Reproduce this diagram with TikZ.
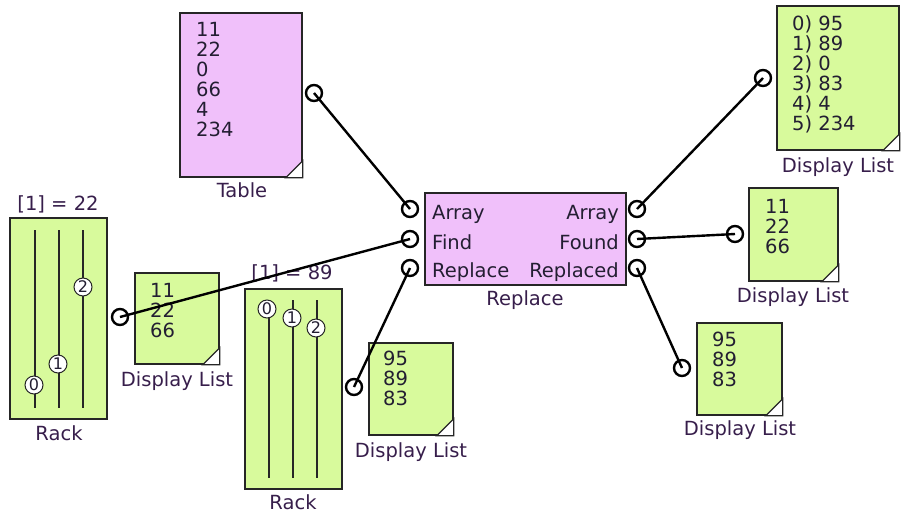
\documentclass[tikz,border=0pt]{standalone}
\usepackage{fontspec}
\setmainfont{DejaVu Sans}
\definecolor{pinkfill}{RGB}{240,192,250}
\definecolor{greenfill}{RGB}{216,250,156}
\definecolor{txt}{RGB}{35,30,50}
\definecolor{lbl}{RGB}{55,30,75}
\newcommand\dlcorner[1]{\filldraw[fill=white,draw=black!85,line width=1.3pt] (#1.south east) -- ++(-17,0) -- ++(17,-17) -- cycle;}
\begin{document}
\begin{tikzpicture}[x=1pt,y=-1pt,
  every node/.style={font=\fontsize{19.5}{20}\selectfont},
  blk/.style={draw=black!85, line width=1.5pt, inner sep=0},
  pinkbox/.style={blk, fill=pinkfill},
  greenbox/.style={blk, fill=greenfill},
  port/.style={circle, draw=black, line width=2.4pt, fill=white, minimum size=16pt, inner sep=0},
  wire/.style={line width=2.4pt, black},
  slider/.style={line width=1.3pt, black!85},
  knob/.style={circle, draw=black!85, line width=1pt, fill=white, minimum size=18pt, inner sep=0, text=txt, font=\fontsize{16}{16}\selectfont},
  lab/.style={anchor=base, text=lbl, inner sep=0},
  list/.style={anchor=north west, align=left, inner sep=0, text=txt}
]
\useasboundingbox (0,0) rectangle (902,512);

% Table
\node[pinkbox, minimum width=122pt, minimum height=164pt] (table) at (241,95) {};
\dlcorner{table}
\node[list] (tabletxt) at (196,22) {11\\22\\0\\66\\4\\234};
\node[lab] (tablelab) at (242,197) {Table};

% Replace
\node[pinkbox, minimum width=201pt, minimum height=92pt] (repl) at (525.5,239) {};
\node[anchor=base west, inner sep=0, text=txt] (l1) at (432,219) {Array};
\node[anchor=base west, inner sep=0, text=txt] (l2) at (432,249) {Find};
\node[anchor=base west, inner sep=0, text=txt] (l3) at (432,277) {Replace};
\node[anchor=base east, inner sep=0, text=txt] (r1) at (619,219) {Array};
\node[anchor=base east, inner sep=0, text=txt] (r2) at (619,249) {Found};
\node[anchor=base east, inner sep=0, text=txt] (r3) at (619,277) {Replaced};
\node[lab] (repllab) at (525,305) {Replace};

% Display List top right
\node[greenbox, minimum width=122pt, minimum height=144pt] (dla) at (838,78) {};
\dlcorner{dla}
\node[list] (dlatxt) at (792,15) {0) 95\\1) 89\\2) 0\\3) 83\\4) 4\\5) 234};
\node[lab] (dlalab) at (838,172) {Display List};

% Display List found
\node[greenbox, minimum width=89pt, minimum height=93pt] (dlb) at (793.5,234.5) {};
\dlcorner{dlb}
\node[list] (dlbtxt) at (765,199) {11\\22\\66};
\node[lab] (dlblab) at (793,302) {Display List};

% Display List replaced
\node[greenbox, minimum width=85pt, minimum height=92pt] (dlc) at (739.5,369) {};
\dlcorner{dlc}
\node[list] (dlctxt) at (712,332) {95\\89\\83};
\node[lab] (dlclab) at (740,435) {Display List};

% Rack 1
\node[greenbox, minimum width=97pt, minimum height=201pt] (rack1) at (58.5,318.5) {};
\node[lab] (rack1top) at (58,210) {[1] = 22};
\node[lab] (rack1lab) at (59,440) {Rack};
\draw[slider] (35,230) -- (35,408);
\draw[slider] (59,230) -- (59,408);
\draw[slider] (83,230) -- (83,408);
\node[knob] (k10) at (34,385) {0};
\node[knob] (k11) at (58,364) {1};
\node[knob] (k12) at (83,287) {2};

% Display List rack1
\node[greenbox, minimum width=84pt, minimum height=91pt] (dld) at (177,318.5) {};
\dlcorner{dld}
\node[list] (dldtxt) at (150,283) {11\\22\\66};
\node[lab] (dldlab) at (177,386) {Display List};

% Rack 2
\node[greenbox, minimum width=97pt, minimum height=200pt] (rack2) at (293.5,389) {};
\node[lab] (rack2top) at (292,279) {[1] = 89};
\node[lab] (rack2lab) at (293,509) {Rack};
\draw[slider] (269,300) -- (269,478);
\draw[slider] (293,300) -- (293,478);
\draw[slider] (317,300) -- (317,478);
\node[knob] (k20) at (267,309) {0};
\node[knob] (k21) at (292,318) {1};
\node[knob] (k22) at (316,328) {2};

% Display List rack2
\node[greenbox, minimum width=84pt, minimum height=92pt] (dle) at (411,389) {};
\dlcorner{dle}
\node[list] (dletxt) at (383,351) {95\\89\\83};
\node[lab] (dlelab) at (411,457) {Display List};

% ports
\node[port] (tp) at (314,93) {};
\node[port] (ia) at (410,209) {};
\node[port] (if) at (410,239) {};
\node[port] (ir) at (410,268) {};
\node[port] (oa) at (637,209) {};
\node[port] (of) at (637,239) {};
\node[port] (or) at (637,268) {};
\node[port] (pa) at (763,78) {};
\node[port] (pb) at (735,234) {};
\node[port] (pc) at (682,368) {};
\node[port] (r1p) at (120,317) {};
\node[port] (r2p) at (354,387) {};

% wires
\draw[wire] (tp.center) -- (ia.center);
\draw[wire] (r1p.center) -- (if.center);
\draw[wire] (r2p.center) -- (ir.center);
\draw[wire] (oa.center) -- (pa.center);
\draw[wire] (of.center) -- (pb.center);
\draw[wire] (or.center) -- (pc.center);
\end{tikzpicture}
\end{document}
